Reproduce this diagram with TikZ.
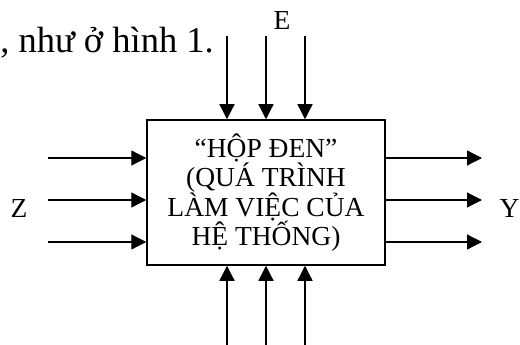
\documentclass[tikz,border=0pt]{standalone}
\usepackage{fontspec}
\setmainfont{Liberation Serif}
\usetikzlibrary{arrows.meta}
\begin{document}
\begin{tikzpicture}[x=1pt,y=-1pt,
  arr/.style={line width=1.3pt,-{Triangle[length=15pt,width=15pt]}},
  lbl/.style={inner sep=0pt,font=\fontsize{27.5}{29}\selectfont}]
\useasboundingbox (0,0) rectangle (520,345);
\node[draw,line width=1.5pt,minimum width=238pt,minimum height=145pt,inner sep=0pt] (box) at (266,192.5) {};
\node[lbl,align=center] (boxtext) at (box.center) {“HỘP ĐEN”\\(QUÁ TRÌNH\\LÀM VIỆC CỦA\\HỆ THỐNG)};
\node[inner sep=0pt,anchor=base east,font=\fontsize{36.5}{38}\selectfont] (para) at (214,53) {, như ở hình 1.};
\node[lbl] (E) at (282,20) {E};
\node[lbl] (Z) at (19,208) {Z};
\node[lbl] (Y) at (509.5,208) {Y};
\coordinate (t1) at (227,36);
\coordinate (t2) at (266,36);
\coordinate (t3) at (305,36);
\coordinate (b1) at (227,345);
\coordinate (b2) at (266,345);
\coordinate (b3) at (305,345);
\coordinate (l1) at (48,158);
\coordinate (l2) at (48,200);
\coordinate (l3) at (48,242);
\coordinate (r1) at (482,158);
\coordinate (r2) at (482,200);
\coordinate (r3) at (482,242);
\foreach \c in {t1,t2,t3} \draw[arr] (\c) -- (\c |- box.north);
\foreach \c in {b1,b2,b3} \draw[arr] (\c) -- (\c |- box.south);
\foreach \c in {l1,l2,l3} \draw[arr] (\c) -- (\c -| box.west);
\foreach \c in {r1,r2,r3} \draw[arr] (box.east |- \c) -- (\c);
\end{tikzpicture}
\end{document}
